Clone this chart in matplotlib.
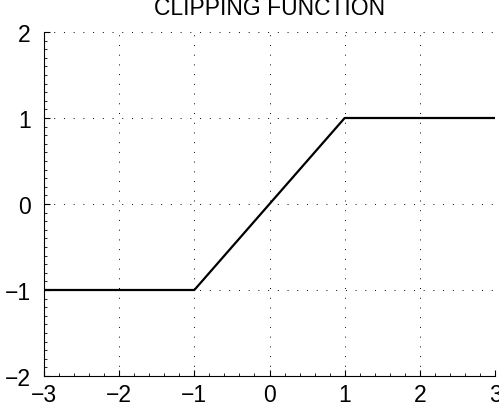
import matplotlib
matplotlib.use("Agg")
import matplotlib.pyplot as plt
from matplotlib.ticker import MultipleLocator

plt.rcParams['font.family'] = ['Liberation Sans', 'DejaVu Sans']

x_vals = [-3, -1, 1, 3]
y_vals = [-1, -1, 1, 1]
x_ticks = [-3, -2, -1, 0, 1, 2, 3]
y_ticks = [-2, -1, 0, 1, 2]

fig = plt.figure(figsize=(4.99, 4.14), dpi=100)
ax = fig.add_axes([44/499, 37/414, 451/499, 344/414])

ax.plot(x_vals, y_vals, color='black', linewidth=1.6)
ax.set_xlim(-3, 3)
ax.set_ylim(-2, 2)
ax.set_xticks(x_ticks)
ax.set_yticks(y_ticks)
ax.set_xticklabels([str(t).replace('-', '\u2212') for t in x_ticks])
ax.set_yticklabels([str(t).replace('-', '\u2212') for t in y_ticks])
ax.xaxis.set_minor_locator(MultipleLocator(0.2))
ax.yaxis.set_minor_locator(MultipleLocator(0.1))

ax.grid(True, which='major', linestyle=(0, (1, 9)), color='black', linewidth=0.7)
ax.spines['top'].set_visible(False)
ax.spines['right'].set_visible(False)
ax.tick_params(which='both', direction='in', labelsize=16.5, top=False, right=False)
ax.tick_params(which='major', length=4)
ax.tick_params(axis='x', which='major', pad=5)
ax.tick_params(axis='y', which='major', pad=9.5)
ax.tick_params(which='minor', length=2)

ax.set_title('CLIPPING FUNCTION', fontsize=16.5, pad=13)

fig.savefig('out.png', dpi=100)
